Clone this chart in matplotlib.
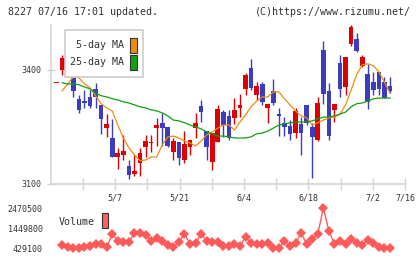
import numpy as np
import matplotlib
matplotlib.use("Agg")
import matplotlib.pyplot as plt
from matplotlib.patches import Rectangle

plt.rcParams['font.family'] = ['DejaVu Sans Mono']

# daily prices, oldest first
opens = [3366, 3400, 3429, 3384, 3324, 3318, 3329, 3350, 3308, 3247,
         3221, 3171, 3176, 3147, 3126, 3155, 3197, 3208, 3247, 3261,
         3250, 3184, 3211, 3163, 3197, 3247, 3305, 3239, 3158, 3211,
         3289, 3279, 3274, 3300, 3350, 3405, 3334, 3363, 3300, 3345,
         3284, 3261, 3253, 3234, 3258, 3308, 3250, 3216, 3453, 3345,
         3295, 3418, 3355, 3468, 3482, 3411, 3389, 3368, 3395, 3368, 3358]
highs = [3366, 3440, 3447, 3392, 3334, 3347, 3347, 3366, 3308, 3284,
         3271, 3195, 3229, 3163, 3176, 3195, 3229, 3229, 3274, 3287,
         3250, 3221, 3211, 3239, 3216, 3287, 3321, 3239, 3234, 3308,
         3295, 3295, 3326, 3337, 3392, 3429, 3368, 3368, 3311, 3376,
         3300, 3276, 3268, 3300, 3276, 3308, 3261, 3329, 3476, 3366,
         3311, 3439, 3434, 3518, 3497, 3439, 3416, 3395, 3395, 3382, 3382]
lows = [3366, 3387, 3382, 3329, 3287, 3300, 3300, 3300, 3232, 3224,
        3171, 3139, 3163, 3113, 3121, 3121, 3171, 3184, 3200, 3200,
        3197, 3163, 3150, 3155, 3176, 3221, 3263, 3163, 3137, 3211,
        3224, 3216, 3258, 3276, 3334, 3347, 3321, 3308, 3261, 3308,
        3226, 3226, 3216, 3221, 3176, 3255, 3116, 3213, 3311, 3216,
        3263, 3329, 3334, 3463, 3447, 3408, 3297, 3334, 3334, 3326, 3339]
closes = [3366, 3432, 3392, 3345, 3295, 3313, 3305, 3329, 3271, 3258,
          3171, 3182, 3187, 3124, 3134, 3182, 3213, 3211, 3255, 3247,
          3200, 3213, 3168, 3205, 3216, 3261, 3289, 3197, 3234, 3297,
          3255, 3221, 3295, 3308, 3387, 3353, 3358, 3316, 3311, 3313,
          3279, 3250, 3232, 3292, 3234, 3261, 3224, 3313, 3337, 3226,
          3311, 3350, 3434, 3513, 3450, 3434, 3316, 3347, 3350, 3326, 3345]

ma5 = [None, 3345, 3363, 3382, 3379, 3363, 3353, 3332, 3311, 3300,
       3292, 3255, 3221, 3195, 3176, 3161, 3163, 3171, 3171, 3203,
       3224, 3226, 3221, 3213, 3208, 3200, 3213, 3229, 3237, 3247,
       3255, 3255, 3242, 3263, 3282, 3303, 3318, 3329, 3329, 3342,
       3342, 3324, 3308, 3292, 3279, 3274, 3255, 3261, 3268, 3274,
       3276, 3284, 3308, 3347, 3387, 3413, 3416, 3411, 3395, 3368, 3339]
ma25 = [None, 3366, 3363, 3363, 3361, 3355, 3350, 3339, 3332, 3329,
        3324, 3321, 3316, 3313, 3308, 3303, 3300, 3295, 3292, 3287,
        3279, 3268, 3266, 3261, 3255, 3250, 3245, 3237, 3232, 3226,
        3226, 3224, 3221, 3221, 3221, 3224, 3232, 3234, 3239, 3247,
        3255, 3258, 3261, 3263, 3263, 3263, 3266, 3271, 3276, 3276,
        3279, 3284, 3289, 3303, 3311, 3313, 3318, 3324, 3326, 3326, 3326]

volume = [None, 582200, 480100, 429100, 429100, 480100, 531200, 633200, 633200, 480100,
          1143600, 786300, 735300, 735300, 1194600, 1194600, 1092600, 786300, 939400, 786300,
          582200, 480100, 735300, 1143600, 633200, 684300, 1143600, 786300, 735300, 735300,
          531200, 531200, 633200, 531200, 990500, 684300, 633200, 633200, 684300, 429100,
          429100, 786300, 531200, 684300, 1194600, 633200, 888400, 1143600, 2470500, 1296700,
          633200, 786300, 633200, 888400, 684300, 582200, 837400, 684300, 480100, 429100, 429100]

price_ticks = [3100, 3400]
vol_ticks = [429100, 1449800, 2470500]
date_labels = ['', '5/7', '', '5/21', '', '6/4', '', '6/18', '', '7/2', '7/16']

up_col = '#dd0000'
down_col = '#3c3cbe'
grid_col = '#d4d4d4'
txt_col = '#333333'

fig = plt.figure(figsize=(4.2, 2.59), dpi=100)
ax = fig.add_axes([51/420, 1-184/259, 354/420, 159/259])
vax = fig.add_axes([51/420, 1-255/259, 354/420, 55/259])

n = len(opens)
for i in range(n):
    o, h, l, c = opens[i], highs[i], lows[i], closes[i]
    col = up_col if c >= o else down_col
    ax.vlines(i, l, h, color=col, linewidth=1)
    lo = min(o, c)
    hgt = max(abs(c - o), 2.5)
    ax.add_patch(Rectangle((i - 0.42, lo), 0.84, hgt, facecolor=col, edgecolor='none', zorder=3))

xm = [i for i in range(n) if ma5[i] is not None]
ax.plot(xm, [ma5[i] for i in xm], color='#f08c10', linewidth=0.9, zorder=4)
ax.plot(xm, [ma25[i] for i in xm], color='#10a010', linewidth=0.9, zorder=4)

ax.set_xlim(-1.03, 62.7)
ax.set_ylim(3100, 3518)
ax.set_yticks(price_ticks)
ax.set_yticklabels([str(t) for t in price_ticks])
tick_pos = np.linspace(4.72, 62.7, 11)
ax.set_xticks(tick_pos)
ax.set_xticklabels(date_labels)
for s in ['top', 'right']:
    ax.spines[s].set_visible(False)
for s in ['left', 'bottom']:
    ax.spines[s].set_color(grid_col)
    ax.spines[s].set_linewidth(1.2)
ax.tick_params(axis='y', direction='inout', length=6, width=1, color=grid_col,
               labelsize=6, labelcolor=txt_col, pad=4)
ax.tick_params(axis='x', direction='inout', length=8, width=1, color=grid_col,
               labelsize=6, labelcolor=txt_col, pad=3)
ax.set_facecolor('none')

# legend box
fig.patches.append(Rectangle((65/420, 1-77/259), 78/420, 47/259, transform=fig.transFigure,
                             facecolor='white', edgecolor='#cccccc', linewidth=1.2, zorder=5))
fig.text(124/420, 1-45/259, '5-day MA', ha='right', va='center', fontsize=7.2, color=txt_col, zorder=6)
fig.text(124/420, 1-62/259, '25-day MA', ha='right', va='center', fontsize=7.2, color=txt_col, zorder=6)
fig.patches.append(Rectangle((130/420, 1-53/259), 7/420, 15/259, transform=fig.transFigure,
                             facecolor='#f08c10', edgecolor='#333333', linewidth=0.8, zorder=6))
fig.patches.append(Rectangle((130/420, 1-70/259), 7/420, 15/259, transform=fig.transFigure,
                             facecolor='#10a010', edgecolor='#333333', linewidth=0.8, zorder=6))

# volume panel
vx = [i for i in range(n) if volume[i] is not None]
vax.plot(vx, [volume[i] for i in vx], color='#ff5a5a', linewidth=1, marker='D',
         markersize=4.8, markeredgewidth=0)
vax.set_xlim(-1.03, 62.7)
v0, v1 = vol_ticks[0], vol_ticks[-1]
per_px = (v1 - v0) / 40
vax.set_ylim(v0 - 7 * per_px, v0 + 48 * per_px)
vax.set_yticks(vol_ticks)
vax.set_yticklabels([str(t) for t in vol_ticks])
vax.set_xticks([])
for s in vax.spines.values():
    s.set_visible(False)
vax.tick_params(axis='y', length=0, labelsize=6, labelcolor=txt_col, pad=6)
vax.set_facecolor('none')

fig.text(59/420, 1-222/259, 'Volume', ha='left', va='center', fontsize=7.2, color=txt_col)
fig.patches.append(Rectangle((102/420, 1-228/259), 6/420, 15/259, transform=fig.transFigure,
                             facecolor='#ff6060', edgecolor='#333333', linewidth=0.8))

fig.text(8/420, 1-12/259, '8227 07/16 17:01 updated.', ha='left', va='center',
         fontsize=7.2, color=txt_col)
fig.text(411/420, 1-12/259, '(C)https://www.rizumu.net/', ha='right', va='center',
         fontsize=7.2, color=txt_col)

fig.savefig('out.png', dpi=100)
